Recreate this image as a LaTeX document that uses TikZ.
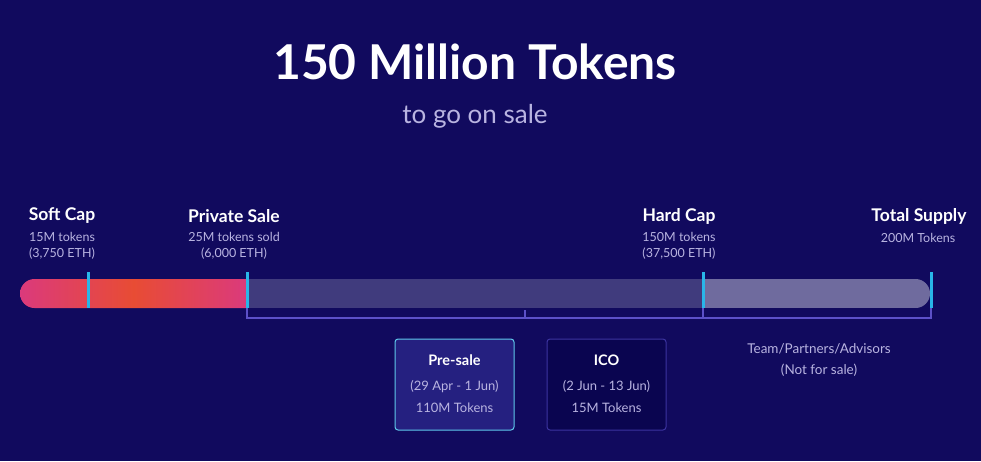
\documentclass[tikz,border=0pt]{standalone}
\usepackage{fontspec}
\setmainfont{Lato}
\usetikzlibrary{positioning}

\definecolor{bgnavy}{RGB}{17,10,94}
\definecolor{capcyan}{RGB}{41,182,232}
\definecolor{salepink}{RGB}{219,58,124}
\definecolor{saleorange}{RGB}{232,76,52}
\definecolor{midbar}{RGB}{64,59,125}
\definecolor{restbar}{RGB}{111,107,158}
\definecolor{bracketline}{RGB}{92,80,200}
\definecolor{softtext}{RGB}{185,180,225}
\definecolor{presalefill}{RGB}{37,32,128}
\definecolor{presaleedge}{RGB}{95,200,235}
\definecolor{icofill}{RGB}{10,5,80}
\definecolor{icoedge}{RGB}{60,52,160}

\begin{document}
\begin{tikzpicture}[x=1pt, y=-1pt,
    head/.style={font=\bfseries\fontsize{17.5}{20}\selectfont, text=white},
    sub/.style={font=\fontsize{12.5}{16}\selectfont, text=softtext, align=center},
    phasehead/.style={font=\bfseries\fontsize{14.5}{17}\selectfont, text=white},
    phaseinfo/.style={font=\fontsize{13}{22}\selectfont, text=softtext, align=center},
    phase/.style={rounded corners=3pt, line width=1pt, minimum width=119pt, minimum height=91pt},
    capmark/.style={capcyan, line width=3pt}]
    \fill [bgnavy] (0, 0) rectangle (981, 461);

    \node [font=\bfseries\fontsize{48}{54}\selectfont, text=white] (title) at (475, 62) {150 Million Tokens};
    \node [font=\fontsize{26}{30}\selectfont, text=softtext] (subtitle) at (475, 116) {to go on sale};

    % the bar
    \begin{scope}
      \clip [rounded corners=14.5pt] (20, 279) rectangle (930, 308);
      \shade [left color=salepink, right color=salepink, middle color=saleorange] (20, 279) rectangle (247, 308);
      \fill [midbar] (247, 279) rectangle (703, 308);
      \fill [restbar] (703, 279) rectangle (931, 308);
    \end{scope}
    \foreach \x in {88, 247, 703, 931}
      \draw [capmark] (\x, 272) -- (\x, 308);

    \draw [bracketline, line width=1.2pt] (247, 308) |- (931, 318) -- (931, 308);
    \draw [bracketline, line width=1.2pt] (703, 308) -- (703, 318);
    \draw [bracketline, line width=1.2pt] (525, 310) -- (525, 318);

    % labels above the bar
    \node [head] (softcap) at (62, 216) {Soft Cap};
    \node [sub] (softcapinfo) at (62, 246) {15M tokens\\(3,750 ETH)};
    \node [head] (private) at (234, 216) {Private Sale};
    \node [sub] (privateinfo) at (234, 246) {25M tokens sold\\(6,000 ETH)};
    \node [head] (hardcap) at (679, 216) {Hard Cap};
    \node [sub] (hardcapinfo) at (679, 246) {150M tokens\\(37,500 ETH)};
    \node [head] (supply) at (919, 216) {Total Supply};
    \node [sub] (supplyinfo) at (918, 238) {200M Tokens};

    % phases below the bar
    \node [phase, fill=presalefill, draw=presaleedge] (presale) at (454.5, 384.5) {};
    \node [phasehead] (presalename) at (454.5, 360) {Pre-sale};
    \node [phaseinfo] (presaleinfo) at (454.5, 397) {(29 Apr - 1 Jun)\\110M Tokens};
    \node [phase, fill=icofill, draw=icoedge] (ico) at (606.5, 384.5) {};
    \node [phasehead] (iconame) at (606.5, 360) {ICO};
    \node [phaseinfo] (icoinfo) at (606.5, 397) {(2 Jun - 13 Jun)\\15M Tokens};

    \node [sub, font=\fontsize{13.5}{21}\selectfont] (team) at (819, 360.5) {Team/Partners/Advisors\\(Not for sale)};
\end{tikzpicture}
\end{document}
